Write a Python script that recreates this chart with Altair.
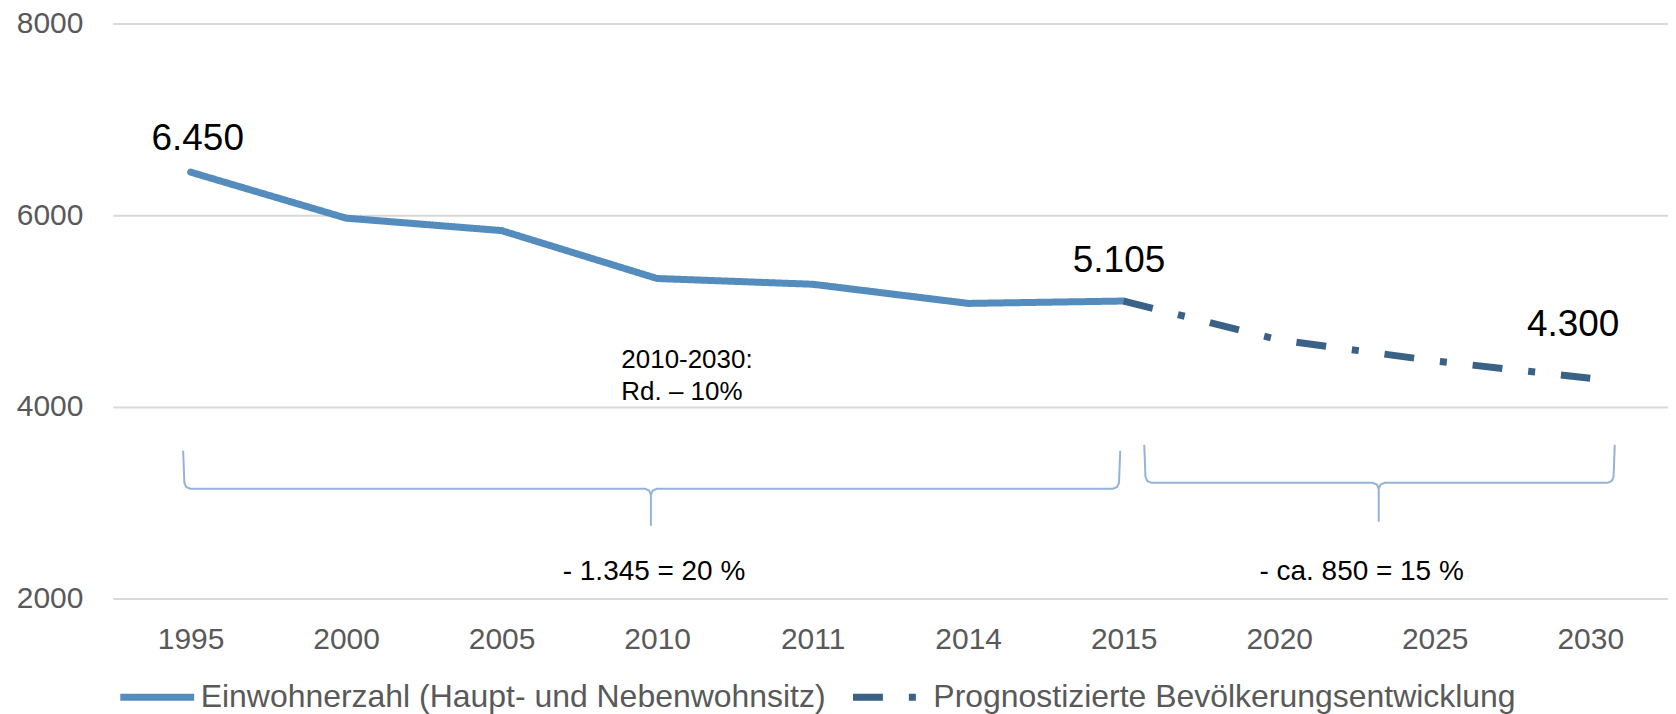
import altair as alt
import pandas as pd

FONT = "Liberation Sans"

# ---- data ----
years_hist = ["1995", "2000", "2005", "2010", "2011", "2014", "2015"]
values_hist = [6450, 5970, 5840, 5340, 5280, 5080, 5105]
years_prog = ["2015", "2020", "2025", "2030"]
values_prog = [5105, 4700, 4480, 4300]
all_years = ["1995", "2000", "2005", "2010", "2011", "2014", "2015", "2020", "2025", "2030"]
series_names = ["Einwohnerzahl (Haupt- und Nebenwohnsitz)",
                "Prognostizierte Bevölkerungsentwicklung"]
y_ticks = [2000, 4000, 6000, 8000]

# value labels (position on category-index axis, value axis)
value_label_text = ["6.450", "5.105", "4.300"]
value_label_idx = [0.546, 6.47, 9.39]
value_label_val = [6677, 5406, 4740]

# annotation texts
note_text = ["2010-2030:", "Rd. – 10%"]
note_idx = [3.27, 3.27]
note_val = [4406, 4073]

brace_text = ["- 1.345 = 20 %", "- ca. 850 = 15 %"]
brace_text_idx = [3.48, 8.03]
brace_text_val = [2198, 2198]

# braces: start, centre, end (category index), top, bar, tip (value)
brace_start = [0.46, 6.64]
brace_centre = [3.46, 8.14]
brace_end = [6.47, 9.65]
brace_top = [3542, 3604]
brace_bar = [3146, 3208]
brace_tip = [2760, 2802]

# ---- tables ----
hist_df = pd.DataFrame({"year": years_hist, "value": values_hist,
                        "series": [series_names[0]] * len(years_hist)})
prog_df = pd.DataFrame({"year": years_prog, "value": values_prog,
                        "series": [series_names[1]] * len(years_prog)})

rx = 6 / 155.8     # corner radius in index units
ry = 6 / 0.096     # corner radius in value units
rows = []
for b in range(len(brace_start)):
    x0, xc, x1 = brace_start[b], brace_centre[b], brace_end[b]
    t, h, tip = brace_top[b], brace_bar[b], brace_tip[b]
    pts = [
        (x0 - 0.2 * rx, t), (x0, h + ry), (x0 + 0.3 * rx, h + 0.3 * ry), (x0 + rx, h),
        (xc - rx, h), (xc - 0.3 * rx, h - 0.3 * ry), (xc, h - ry), (xc, tip),
        (xc, h - ry), (xc + 0.3 * rx, h - 0.3 * ry), (xc + rx, h),
        (x1 - rx, h), (x1 - 0.3 * rx, h + 0.3 * ry), (x1, h + ry), (x1 + 0.2 * rx, t),
    ]
    for i, (px, py) in enumerate(pts):
        rows.append({"brace": b, "i": i, "xi": px, "v": py})
brace_df = pd.DataFrame(rows)

vlab_df = pd.DataFrame({"t": value_label_text, "xi": value_label_idx, "v": value_label_val})
note_df = pd.DataFrame({"t": note_text, "xi": note_idx, "v": note_val})
btxt_df = pd.DataFrame({"t": brace_text, "xi": brace_text_idx, "v": brace_text_val})

# ---- scales ----
yscale = alt.Scale(domain=[2000, 8000], nice=False, zero=False)
xidx = alt.Scale(domain=[0, 10], nice=False, zero=False)

legend = alt.Legend(
    title=None, orient="none", legendX=4, legendY=634, direction="horizontal",
    symbolType="stroke", symbolSize=5476, symbolStrokeWidth=7,
    labelFont=FONT, labelFontSize=32, labelColor="#595959", labelOffset=3,
    labelLimit=1000, columnPadding=12, padding=0,
)

x_main = alt.X("year:O", sort=all_years, scale=alt.Scale(domain=all_years),
               axis=alt.Axis(title=None, labelAngle=0, labelFont=FONT, labelFontSize=30,
                             labelColor="#595959", domain=False, ticks=False, tickSize=0,
                             labelPadding=26, grid=False))
y_main = alt.Y("value:Q", scale=yscale, title=None,
               axis=alt.Axis(title=None, values=y_ticks, format="d", labelFont=FONT,
                             labelFontSize=30, labelColor="#595959", domain=False,
                             ticks=False, tickSize=0, labelPadding=30, grid=True,
                             gridColor="#D9D9D9", gridWidth=2))
color_enc = alt.Color("series:N", scale=alt.Scale(domain=series_names,
                                                  range=["#558CBE", "#3A6186"]), legend=legend)
dash_enc = alt.StrokeDash("series:N", scale=alt.Scale(domain=series_names,
                                                      range=[[1, 0], [30, 26, 7, 26]]),
                          legend=legend)

solid = alt.Chart(hist_df).mark_line(strokeWidth=7, strokeCap="round", strokeJoin="round").encode(
    x=x_main, y=y_main, color=color_enc, strokeDash=dash_enc,
)
dashed = alt.Chart(prog_df).mark_line(strokeWidth=7, strokeCap="butt", strokeJoin="round").encode(
    x=x_main, y=y_main, color=color_enc, strokeDash=dash_enc,
)
main = alt.layer(solid, dashed)


def ann_y():
    return alt.Y("v:Q", scale=yscale, title=None)


braces = alt.Chart(brace_df).mark_line(stroke="#95B3D7", strokeWidth=2, interpolate="linear").encode(
    x=alt.X("xi:Q", scale=xidx, axis=None),
    y=ann_y(),
    order="i:Q",
    detail="brace:N",
)

vlabels = alt.Chart(vlab_df).mark_text(font=FONT, fontSize=37, color="#000000",
                                       align="center", baseline="alphabetic").encode(
    x=alt.X("xi:Q", scale=xidx, axis=None),
    y=ann_y(),
    text="t:N",
)

notes = alt.Chart(note_df).mark_text(font=FONT, fontSize=26, color="#000000",
                                     align="left", baseline="alphabetic").encode(
    x=alt.X("xi:Q", scale=xidx, axis=None),
    y=ann_y(),
    text="t:N",
)

btexts = alt.Chart(btxt_df).mark_text(font=FONT, fontSize=28, color="#000000",
                                      align="center", baseline="alphabetic").encode(
    x=alt.X("xi:Q", scale=xidx, axis=None),
    y=ann_y(),
    text="t:N",
)

annotations = alt.layer(braces, vlabels, notes, btexts)

chart = alt.layer(main, annotations).resolve_scale(
    x="independent"
).properties(
    width=1558, height=576,
    padding={"left": 105, "top": 15, "right": 0, "bottom": 115},
    autosize=alt.AutoSizeParams(type="none"),
    background="#FFFFFF",
).configure_view(stroke=None)

chart.save("out.html", embed_options={"renderer": "svg", "actions": False})
